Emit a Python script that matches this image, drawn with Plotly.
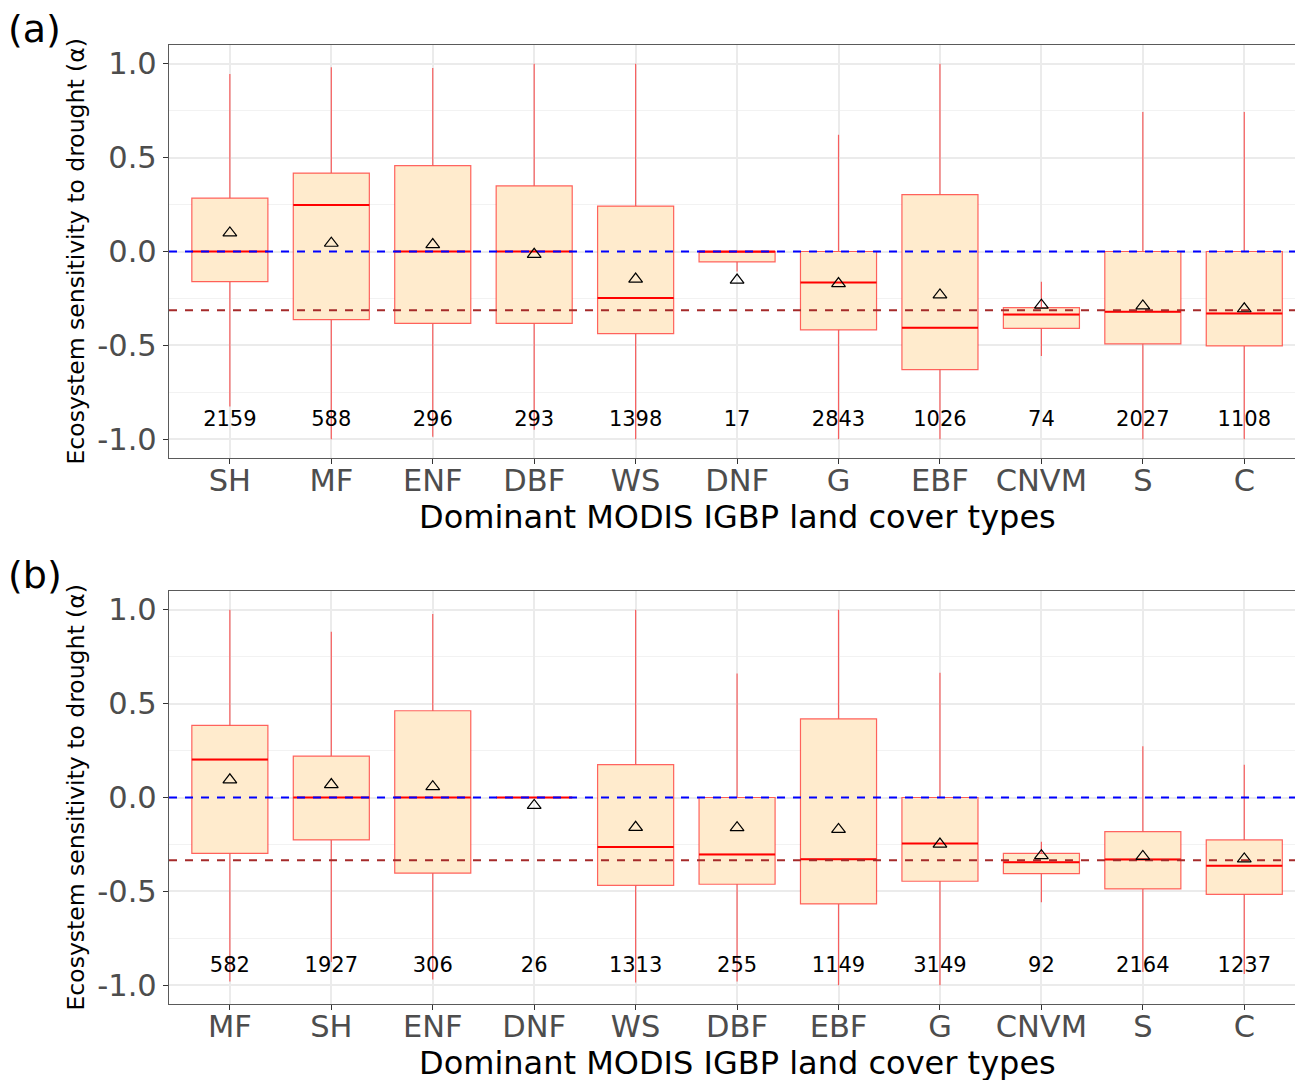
import plotly.graph_objects as go

# ---------------- data ----------------
cats_a = ["SH", "MF", "ENF", "DBF", "WS", "DNF", "G", "EBF", "CNVM", "S", "C"]
low_a = [-0.825, -1.0, -0.987, -0.95, -1.0, -0.106, -1.0, -1.0, -0.556, -1.0, -1.0]
q1_a = [-0.161, -0.363, -0.383, -0.383, -0.437, -0.055, -0.417, -0.629, -0.409, -0.492, -0.503]
med_a = [0.0, 0.248, 0.0, 0.0, -0.248, 0.0, -0.165, -0.406, -0.336, -0.321, -0.330]
q3_a = [0.284, 0.418, 0.457, 0.350, 0.242, 0.0, 0.0, 0.303, -0.299, 0.0, 0.0]
high_a = [0.945, 0.982, 0.978, 1.0, 1.0, 0.0, 0.622, 1.0, -0.161, 0.743, 0.743]
mean_a = [0.099, 0.044, 0.037, -0.015, -0.147, -0.152, -0.171, -0.231, -0.286, -0.290, -0.305]
n_a = [2159, 588, 296, 293, 1398, 17, 2843, 1026, 74, 2027, 1108]
overall_a = -0.313

cats_b = ["MF", "SH", "ENF", "DNF", "WS", "DBF", "EBF", "G", "CNVM", "S", "C"]
low_b = [-0.98, -0.876, -0.97, 0.0, -0.986, -0.98, -1.0, -1.0, -0.558, -0.93, -0.94]
q1_b = [-0.298, -0.226, -0.403, 0.0, -0.468, -0.462, -0.567, -0.446, -0.406, -0.487, -0.516]
med_b = [0.202, 0.0, 0.0, 0.0, -0.264, -0.303, -0.329, -0.245, -0.345, -0.330, -0.363]
q3_b = [0.384, 0.220, 0.462, 0.0, 0.175, 0.0, 0.419, 0.0, -0.298, -0.182, -0.226]
high_b = [1.0, 0.883, 0.978, 0.0, 1.0, 0.661, 1.0, 0.664, -0.236, 0.273, 0.175]
mean_b = [0.094, 0.069, 0.058, -0.042, -0.159, -0.161, -0.170, -0.248, -0.310, -0.314, -0.327]
n_b = [582, 1927, 306, 26, 1313, 255, 1149, 3149, 92, 2164, 1237]
overall_b = -0.334

ytick_vals = [-1.0, -0.5, 0.0, 0.5, 1.0]
ytick_text = ["-1.0", "-0.5", "0.0", "0.5", "1.0"]
minor_vals = [-0.75, -0.25, 0.25, 0.75]

xtitle = "Dominant MODIS IGBP land cover types"
ytitle = "Ecosystem sensitivity to drought (α)"

# ---------------- style ----------------
FONT = "DejaVu Sans"
W, H = 1295, 1080
BOXW = 0.75
FILL = "#FFEBCD"
EDGE = "rgba(255,0,0,0.6)"
GRID = "#EBEBEB"
BORDER = "#5a5a5a"
TICKSIZE = 30.5

fig = go.Figure()

panels = [
    dict(cats=cats_a, low=low_a, q1=q1_a, med=med_a, q3=q3_a, high=high_a,
         mean=mean_a, n=n_a, overall=overall_a, xa="x", ya="y", label="(a)",
         top=45, bot=458),
    dict(cats=cats_b, low=low_b, q1=q1_b, med=med_b, q3=q3_b, high=high_b,
         mean=mean_b, n=n_b, overall=overall_b, xa="x2", ya="y2", label="(b)",
         top=591, bot=1004),
]

x_left = 169 / W

for k, p in enumerate(panels):
    pos = list(range(len(p["cats"])))
    fig.add_trace(go.Box(
        x=pos, q1=p["q1"], median=p["med"], q3=p["q3"],
        lowerfence=p["low"], upperfence=p["high"],
        width=BOXW, whiskerwidth=0, fillcolor=FILL,
        line=dict(color=EDGE, width=1.2), boxpoints=False,
        xaxis=p["xa"], yaxis=p["ya"], showlegend=False, hoverinfo="skip"))
    # median lines (thicker, solid red)
    mx, my = [], []
    for i, m in zip(pos, p["med"]):
        mx += [i - BOXW / 2, i + BOXW / 2, None]
        my += [m, m, None]
    fig.add_trace(go.Scatter(x=mx, y=my, mode="lines",
                             line=dict(color="#FF0000", width=2),
                             xaxis=p["xa"], yaxis=p["ya"], showlegend=False,
                             hoverinfo="skip"))
    # reference lines
    xr = [-0.6, 10.5]
    fig.add_trace(go.Scatter(x=xr, y=[0, 0], mode="lines",
                             line=dict(color="#0000FF", width=2, dash="8px,8px"),
                             xaxis=p["xa"], yaxis=p["ya"], showlegend=False,
                             hoverinfo="skip"))
    fig.add_trace(go.Scatter(x=xr, y=[p["overall"]] * 2, mode="lines",
                             line=dict(color="#A52A2A", width=2, dash="8px,8px"),
                             xaxis=p["xa"], yaxis=p["ya"], showlegend=False,
                             hoverinfo="skip"))
    # means
    fig.add_trace(go.Scatter(x=pos, y=p["mean"], mode="markers",
                             marker=dict(symbol="triangle-up-open", size=12,
                                         color="black", line=dict(width=1.2)),
                             xaxis=p["xa"], yaxis=p["ya"], showlegend=False,
                             hoverinfo="skip"))
    # counts
    fig.add_trace(go.Scatter(x=pos, y=[-0.9] * len(pos), mode="text",
                             text=[str(v) for v in p["n"]],
                             textposition="middle center",
                             textfont=dict(family=FONT, size=21, color="black"),
                             xaxis=p["xa"], yaxis=p["ya"], showlegend=False,
                             hoverinfo="skip"))

    ydom = [1 - p["bot"] / H, 1 - p["top"] / H]
    xkey = "xaxis" if k == 0 else "xaxis2"
    ykey = "yaxis" if k == 0 else "yaxis2"
    fig.update_layout(**{
        xkey: dict(domain=[x_left, 1], range=[-0.6, 10.5], anchor=p["ya"],
                   tickvals=pos, ticktext=p["cats"],
                   tickfont=dict(family=FONT, size=TICKSIZE, color="#4D4D4D"),
                   ticks="outside", ticklen=5, tickcolor="#333333",
                   ticklabelstandoff=-10,
                   showgrid=True, gridcolor=GRID, gridwidth=1.5,
                   zeroline=False, showline=True, linecolor=BORDER,
                   linewidth=1.3, mirror=True, automargin=False),
        ykey: dict(domain=ydom, range=[-1.1, 1.1], anchor=p["xa"],
                   tickvals=ytick_vals, ticktext=ytick_text,
                   tickfont=dict(family=FONT, size=TICKSIZE, color="#4D4D4D"),
                   ticks="outside", ticklen=5, tickcolor="#333333",
                   showgrid=True, gridcolor=GRID, gridwidth=1.5,
                   minor=dict(tickvals=minor_vals, showgrid=True,
                              gridcolor="#F2F2F2", gridwidth=1),
                   zeroline=False, showline=True, linecolor=BORDER,
                   linewidth=1.3, mirror=False, automargin=False),
    })
    # titles and labels
    fig.add_annotation(text=xtitle, xref="paper", yref="paper",
                       x=737 / W, y=1 - (p["bot"] + 59) / H,
                       xanchor="center", yanchor="middle", showarrow=False,
                       font=dict(family=FONT, size=32, color="black"))
    fig.add_annotation(text=ytitle, xref="paper", yref="paper",
                       x=75 / W, y=1 - ((p["top"] + p["bot"]) / 2) / H,
                       xanchor="center", yanchor="middle", showarrow=False,
                       textangle=-90,
                       font=dict(family=FONT, size=23.5, color="black"))
    fig.add_annotation(text=p["label"], xref="paper", yref="paper",
                       x=6 / W, y=1 - (p["top"] - 16) / H,
                       xanchor="left", yanchor="middle", showarrow=False,
                       font=dict(family=FONT, size=38, color="black"))

fig.update_layout(width=W, height=H, margin=dict(l=0, r=0, t=0, b=0),
                  paper_bgcolor="white", plot_bgcolor="white",
                  showlegend=False)

fig.write_html("out.html",
               config={"displayModeBar": False},
               post_script="document.body.style.margin='0';"
                           "document.body.style.overflow='hidden';")
